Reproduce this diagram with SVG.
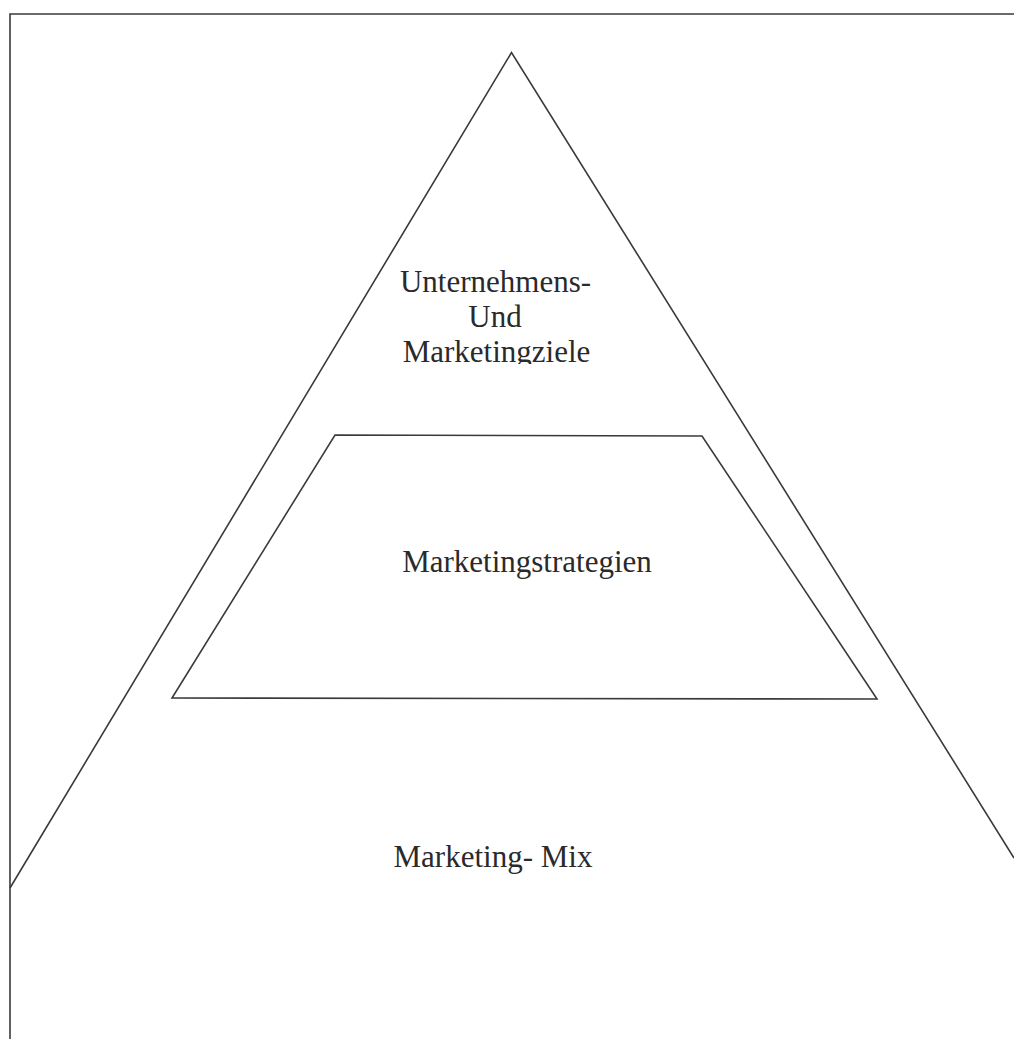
<svg xmlns="http://www.w3.org/2000/svg" width="1014" height="1039" viewBox="0 0 1014 1039">
<style>
.ln{fill:none;stroke:#3a3a3a;stroke-width:1.6;stroke-linejoin:miter}
.t{font-family:"Liberation Serif","Times New Roman",serif;font-size:31px;fill:#2a2a2a;text-anchor:middle}
</style>
<defs>
<clipPath id="c1"><rect x="380" y="260" width="240" height="104"/></clipPath>
</defs>
<rect width="1014" height="1039" fill="#fff"/>
<g id="frame">
<polyline class="ln" points="10,1039 10,14 1014,14"/>
</g>
<g id="connectors"></g>
<g id="pyramid">
<polyline class="ln" points="10,888 511.5,52.5 1014,858"/>
</g>
<g id="top-node">
<g clip-path="url(#c1)">
<text class="t" x="495.5" y="292">Unternehmens-</text>
<text class="t" x="495" y="327">Und</text>
<text class="t" x="496.5" y="362">Marketingziele</text>
</g>
</g>
<g id="middle-node">
<polygon class="ln" points="335,435 702,436 877,699 172,698"/>
<text class="t" x="527" y="572">Marketingstrategien</text>
</g>
<g id="bottom-node">
<text class="t" x="493" y="867">Marketing- Mix</text>
</g>
</svg>
